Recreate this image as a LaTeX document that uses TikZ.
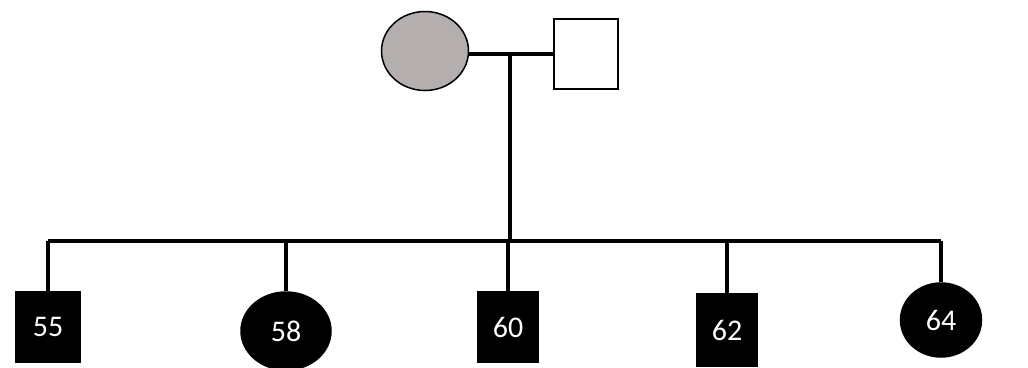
\documentclass[tikz,border=0pt]{standalone}
\usepackage{fontspec}
\setmainfont{Carlito}
\usepackage{tikz}
\usetikzlibrary{shapes, positioning}
\usetikzlibrary{calc}
\definecolor{carriergray}{RGB}{180,174,174}

\begin{document}
\begin{tikzpicture}[x=1pt, y=-1pt,
		line/.style={line width=4.5pt},
		male/.style={draw, line width=1.5pt, rectangle, minimum width=64pt, minimum height=70pt, inner sep=0pt},
		female/.style={draw, line width=1.5pt, ellipse, inner sep=0pt},
		affected/.style={fill=black, text=white, font=\fontsize{30}{34}\selectfont}]
		\useasboundingbox (0,0) rectangle (1028,367);
		% parents
		\node[female, fill=carriergray, minimum width=87pt, minimum height=79pt] (mother) at (425,51) {};
		\node[male, fill=white] (father) at (586,54) {};
		\coordinate (mid) at (510,54);
		\draw[line] (mother.east |- mid) -- (father.west |- mid);
		% children
		\node[male, affected, minimum width=65pt, minimum height=71pt] (c55) at (48,327) {55};
		\node[female, affected, minimum width=90pt, minimum height=78pt] (c58) at (286,331) {58};
		\node[male, affected, minimum width=60pt, minimum height=71pt] (c60) at (508,327) {60};
		\node[male, affected, minimum width=60pt, minimum height=72pt] (c62) at (727,330) {62};
		\node[female, affected, minimum width=81pt, minimum height=74pt] (c64) at (941,320) {64};
		\coordinate (sib) at (508,241);
		\draw[line] (mid) -- (mid |- sib);
		\draw[line] (c55.north |- sib) -- (c64.north |- sib);
		\foreach \n in {55,58,60,62,64} {
			\draw[line] (c\n.north) -- (c\n.north |- sib);
		}
	\end{tikzpicture}
\end{document}
